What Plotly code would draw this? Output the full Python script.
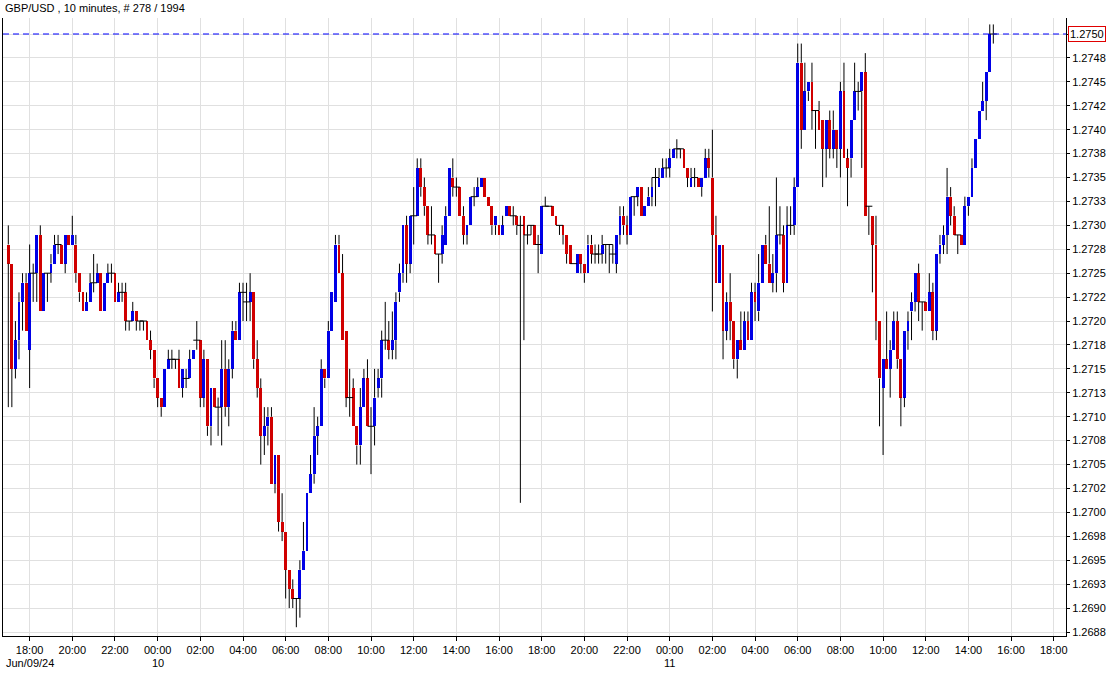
import pandas as pd
import plotly.graph_objects as go

# ---- data (GBP/USD 10-minute candles) ----
opens = [1.2728,1.2726,1.2715,1.2718,1.2722,1.2724,1.2717,1.2725,1.2725,1.2729,
1.2721,1.2725,1.2725,1.2726,1.2728,1.2728,1.2726,1.2729,1.2728,1.2728,
1.2725,1.2723,1.2721,1.2722,1.2724,1.2724,1.2725,1.2721,1.2724,1.2725,
1.2725,1.2722,1.2723,1.2723,1.2720,1.2720,1.2721,1.2720,1.2720,1.2720,
1.2718,1.2717,1.2714,1.2712,1.2711,1.2715,1.2716,1.2716,1.2716,1.2713,
1.2714,1.2714,1.2716,1.2718,1.2718,1.2712,1.2716,1.2709,1.2713,1.2711,
1.2711,1.2715,1.2711,1.2715,1.2719,1.2718,1.2723,1.2722,1.2722,1.2723,
1.2716,1.2713,1.2708,1.2709,1.2710,1.2703,1.2706,1.2699,1.2698,1.2694,
1.2692,1.2691,1.2691,1.2694,1.2696,1.2702,1.2704,1.2708,1.2709,1.2715,
1.2714,1.2719,1.2722,1.2728,1.2725,1.2719,1.2712,1.2713,1.2709,1.2707,
1.2711,1.2714,1.2709,1.2709,1.2713,1.2714,1.2718,1.2718,1.2717,1.2718,
1.2723,1.2725,1.2730,1.2726,1.2731,1.2731,1.2736,1.2734,1.2732,1.2729,
1.2729,1.2727,1.2727,1.2728,1.2731,1.2735,1.2734,1.2734,1.2731,1.2729,
1.2730,1.2733,1.2733,1.2734,1.2735,1.2733,1.2732,1.2730,1.2730,1.2729,
1.2731,1.2732,1.2731,1.2731,1.2730,1.2731,1.2729,1.2730,1.2730,1.2728,
1.2727,1.2732,1.2732,1.2732,1.2731,1.2730,1.2730,1.2729,1.2728,1.2726,
1.2725,1.2727,1.2726,1.2725,1.2728,1.2727,1.2727,1.2727,1.2728,1.2728,
1.2727,1.2726,1.2729,1.2731,1.2730,1.2729,1.2733,1.2733,1.2734,1.2731,
1.2732,1.2733,1.2735,1.2734,1.2735,1.2736,1.2736,1.2737,1.2738,1.2738,
1.2738,1.2736,1.2734,1.2735,1.2735,1.2734,1.2735,1.2737,1.2735,1.2729,
1.2724,1.2728,1.2719,1.2722,1.2720,1.2716,1.2718,1.2717,1.2720,1.2718,
1.2723,1.2721,1.2724,1.2728,1.2726,1.2724,1.2725,1.2729,1.2729,1.2724,
1.2730,1.2730,1.2734,1.2747,1.2740,1.2744,1.2745,1.2742,1.2742,1.2741,
1.2738,1.2741,1.2738,1.2740,1.2738,1.2744,1.2737,1.2737,1.2741,1.2744,
1.2744,1.2746,1.2732,1.2731,1.2728,1.2720,1.2713,1.2716,1.2715,1.2717,
1.2720,1.2716,1.2712,1.2719,1.2721,1.2722,1.2725,1.2722,1.2722,1.2721,
1.2723,1.2719,1.2727,1.2728,1.2729,1.2733,1.2731,1.2729,1.2729,1.2728,
1.2732,1.2733,1.2736,1.2739,1.2742,1.2743,1.2746,1.2750]
highs = [1.2730,1.2726,1.2720,1.2723,1.2725,1.2725,1.2728,1.2726,1.2729,1.2730,
1.2725,1.2725,1.2727,1.2729,1.2729,1.2728,1.2729,1.2729,1.2731,1.2729,
1.2725,1.2723,1.2723,1.2725,1.2727,1.2726,1.2725,1.2724,1.2726,1.2726,
1.2725,1.2724,1.2724,1.2724,1.2720,1.2722,1.2721,1.2720,1.2720,1.2720,
1.2719,1.2717,1.2714,1.2712,1.2715,1.2717,1.2717,1.2716,1.2717,1.2715,
1.2715,1.2717,1.2717,1.2720,1.2718,1.2717,1.2716,1.2713,1.2713,1.2712,
1.2718,1.2718,1.2716,1.2720,1.2720,1.2724,1.2724,1.2724,1.2725,1.2723,
1.2718,1.2714,1.2711,1.2711,1.2711,1.2706,1.2706,1.2702,1.2698,1.2694,
1.2693,1.2691,1.2695,1.2699,1.2702,1.2706,1.2711,1.2710,1.2716,1.2715,
1.2720,1.2723,1.2729,1.2729,1.2727,1.2719,1.2715,1.2714,1.2709,1.2713,
1.2715,1.2716,1.2711,1.2715,1.2715,1.2719,1.2722,1.2720,1.2721,1.2723,
1.2726,1.2730,1.2731,1.2731,1.2734,1.2737,1.2737,1.2735,1.2732,1.2732,
1.2729,1.2727,1.2730,1.2732,1.2736,1.2737,1.2735,1.2734,1.2732,1.2730,
1.2733,1.2734,1.2735,1.2735,1.2735,1.2733,1.2732,1.2731,1.2730,1.2731,
1.2732,1.2732,1.2732,1.2731,1.2731,1.2731,1.2730,1.2730,1.2730,1.2729,
1.2732,1.2733,1.2732,1.2732,1.2731,1.2730,1.2730,1.2729,1.2728,1.2726,
1.2727,1.2727,1.2726,1.2729,1.2729,1.2728,1.2728,1.2729,1.2728,1.2728,
1.2728,1.2729,1.2732,1.2732,1.2731,1.2733,1.2733,1.2734,1.2734,1.2732,
1.2734,1.2735,1.2736,1.2736,1.2737,1.2737,1.2738,1.2738,1.2739,1.2738,
1.2738,1.2736,1.2736,1.2736,1.2735,1.2735,1.2738,1.2738,1.2740,1.2731,
1.2728,1.2728,1.2723,1.2725,1.2720,1.2718,1.2721,1.2721,1.2721,1.2724,
1.2724,1.2727,1.2728,1.2729,1.2732,1.2727,1.2735,1.2732,1.2730,1.2732,
1.2732,1.2735,1.2749,1.2749,1.2747,1.2745,1.2747,1.2742,1.2743,1.2741,
1.2741,1.2742,1.2742,1.2740,1.2745,1.2747,1.2738,1.2741,1.2747,1.2745,
1.2746,1.2748,1.2732,1.2731,1.2731,1.2720,1.2716,1.2721,1.2718,1.2721,
1.2721,1.2716,1.2719,1.2721,1.2723,1.2725,1.2726,1.2722,1.2722,1.2725,
1.2724,1.2727,1.2729,1.2730,1.2736,1.2734,1.2732,1.2729,1.2729,1.2733,
1.2733,1.2737,1.2739,1.2742,1.2745,1.2746,1.2751,1.2751]
lows = [1.2711,1.2711,1.2714,1.2716,1.2719,1.2719,1.2713,1.2722,1.2722,1.2721,
1.2721,1.2722,1.2724,1.2726,1.2727,1.2726,1.2725,1.2728,1.2728,1.2724,
1.2722,1.2721,1.2721,1.2722,1.2723,1.2724,1.2721,1.2721,1.2724,1.2724,
1.2722,1.2722,1.2722,1.2719,1.2719,1.2720,1.2719,1.2719,1.2719,1.2718,
1.2716,1.2713,1.2711,1.2710,1.2711,1.2715,1.2715,1.2715,1.2713,1.2712,
1.2713,1.2714,1.2716,1.2717,1.2711,1.2711,1.2708,1.2707,1.2711,1.2708,
1.2707,1.2710,1.2709,1.2714,1.2718,1.2718,1.2720,1.2720,1.2720,1.2715,
1.2712,1.2705,1.2706,1.2707,1.2703,1.2702,1.2698,1.2697,1.2691,1.2690,
1.2690,1.2688,1.2689,1.2694,1.2696,1.2702,1.2703,1.2706,1.2709,1.2713,
1.2714,1.2719,1.2722,1.2725,1.2718,1.2711,1.2710,1.2709,1.2705,1.2705,
1.2711,1.2709,1.2704,1.2707,1.2712,1.2712,1.2717,1.2716,1.2716,1.2716,
1.2722,1.2724,1.2724,1.2725,1.2728,1.2731,1.2733,1.2731,1.2728,1.2728,
1.2727,1.2724,1.2726,1.2728,1.2731,1.2733,1.2733,1.2731,1.2728,1.2728,
1.2730,1.2732,1.2733,1.2734,1.2733,1.2732,1.2729,1.2729,1.2729,1.2729,
1.2731,1.2731,1.2730,1.2729,1.2701,1.2718,1.2728,1.2729,1.2728,1.2725,
1.2727,1.2732,1.2732,1.2731,1.2730,1.2729,1.2728,1.2726,1.2726,1.2726,
1.2725,1.2725,1.2724,1.2725,1.2726,1.2726,1.2726,1.2726,1.2726,1.2725,
1.2726,1.2725,1.2728,1.2729,1.2728,1.2729,1.2731,1.2732,1.2731,1.2731,
1.2732,1.2732,1.2732,1.2734,1.2735,1.2735,1.2735,1.2737,1.2737,1.2737,
1.2736,1.2734,1.2734,1.2734,1.2734,1.2733,1.2735,1.2735,1.2721,1.2724,
1.2724,1.2716,1.2718,1.2718,1.2715,1.2714,1.2717,1.2717,1.2718,1.2718,
1.2720,1.2720,1.2724,1.2726,1.2724,1.2723,1.2723,1.2728,1.2723,1.2724,
1.2729,1.2729,1.2734,1.2738,1.2740,1.2743,1.2740,1.2738,1.2740,1.2734,
1.2735,1.2737,1.2737,1.2736,1.2735,1.2737,1.2732,1.2735,1.2741,1.2742,
1.2736,1.2731,1.2729,1.2723,1.2718,1.2709,1.2706,1.2715,1.2712,1.2717,
1.2715,1.2709,1.2711,1.2717,1.2718,1.2721,1.2720,1.2719,1.2721,1.2721,
1.2718,1.2718,1.2726,1.2727,1.2727,1.2730,1.2729,1.2727,1.2728,1.2728,
1.2731,1.2733,1.2736,1.2739,1.2742,1.2741,1.2746,1.2749]
closes = [1.2726,1.2715,1.2718,1.2722,1.2724,1.2719,1.2725,1.2725,1.2729,1.2721,
1.2725,1.2725,1.2726,1.2728,1.2728,1.2726,1.2729,1.2728,1.2729,1.2725,
1.2723,1.2721,1.2722,1.2724,1.2724,1.2725,1.2721,1.2724,1.2725,1.2725,
1.2722,1.2723,1.2723,1.2720,1.2720,1.2721,1.2720,1.2720,1.2720,1.2718,
1.2717,1.2714,1.2712,1.2711,1.2715,1.2716,1.2716,1.2716,1.2713,1.2715,
1.2714,1.2716,1.2717,1.2718,1.2712,1.2716,1.2709,1.2713,1.2711,1.2711,
1.2715,1.2711,1.2715,1.2719,1.2718,1.2723,1.2723,1.2722,1.2723,1.2716,
1.2713,1.2708,1.2709,1.2710,1.2703,1.2706,1.2699,1.2698,1.2694,1.2692,
1.2691,1.2691,1.2694,1.2696,1.2702,1.2704,1.2708,1.2709,1.2715,1.2714,
1.2719,1.2723,1.2728,1.2725,1.2718,1.2712,1.2712,1.2709,1.2707,1.2711,
1.2714,1.2709,1.2709,1.2712,1.2714,1.2718,1.2718,1.2717,1.2718,1.2722,
1.2725,1.2730,1.2726,1.2731,1.2731,1.2736,1.2734,1.2732,1.2729,1.2729,
1.2727,1.2727,1.2729,1.2731,1.2736,1.2734,1.2734,1.2731,1.2729,1.2730,
1.2733,1.2733,1.2734,1.2735,1.2733,1.2732,1.2730,1.2731,1.2729,1.2730,
1.2732,1.2731,1.2731,1.2730,1.2730,1.2729,1.2729,1.2730,1.2728,1.2728,
1.2732,1.2732,1.2732,1.2731,1.2730,1.2730,1.2729,1.2727,1.2726,1.2726,
1.2727,1.2726,1.2725,1.2728,1.2727,1.2727,1.2727,1.2728,1.2728,1.2728,
1.2727,1.2729,1.2731,1.2730,1.2729,1.2733,1.2733,1.2734,1.2731,1.2732,
1.2733,1.2734,1.2735,1.2735,1.2736,1.2736,1.2737,1.2738,1.2738,1.2738,
1.2736,1.2735,1.2735,1.2735,1.2734,1.2735,1.2737,1.2736,1.2729,1.2724,
1.2728,1.2719,1.2722,1.2720,1.2716,1.2718,1.2717,1.2720,1.2718,1.2723,
1.2722,1.2724,1.2728,1.2726,1.2724,1.2725,1.2729,1.2729,1.2724,1.2730,
1.2730,1.2734,1.2747,1.2740,1.2744,1.2745,1.2742,1.2742,1.2740,1.2738,
1.2741,1.2738,1.2740,1.2738,1.2744,1.2737,1.2736,1.2741,1.2744,1.2744,
1.2746,1.2731,1.2732,1.2728,1.2720,1.2714,1.2716,1.2715,1.2717,1.2720,
1.2716,1.2712,1.2719,1.2720,1.2722,1.2725,1.2722,1.2722,1.2721,1.2723,
1.2719,1.2727,1.2728,1.2729,1.2733,1.2731,1.2729,1.2729,1.2728,1.2732,
1.2733,1.2736,1.2739,1.2742,1.2743,1.2746,1.2750,1.2750]

y_tick_values = [1.26875 + 0.00025 * k for k in range(26)]
# the top level (1.2750) is shown by the boxed current-price label instead
y_tick_labels = ["1.2688","1.2690","1.2693","1.2695","1.2698","1.2700","1.2702","1.2705",
                 "1.2708","1.2710","1.2713","1.2715","1.2718","1.2720","1.2722","1.2725",
                 "1.2728","1.2730","1.2733","1.2735","1.2738","1.2740","1.2742","1.2745",
                 "1.2748",""]
last_price = 1.2750
title_text = "GBP/USD , 10 minutes, # 278 / 1994"
date_labels = [("2024-06-09 16:47", "Jun/09/24"), ("2024-06-10 00:00", "10"), ("2024-06-11 00:00", "11")]

times = pd.date_range("2024-06-09 17:00", periods=len(opens), freq="10min")

UP = "#0000e6"
DOWN = "#d00000"

fig = go.Figure()

# bodies
base = [min(o, c) for o, c in zip(opens, closes)]
height = [abs(c - o) for o, c in zip(opens, closes)]
colors = [UP if c > o else DOWN for o, c in zip(opens, closes)]
fig.add_trace(go.Bar(x=times, y=height, base=base, width=8 * 60 * 1000,
                     marker=dict(color=colors, line=dict(width=0)),
                     hoverinfo="skip", showlegend=False))

# wicks: upper part (high -> body top) and lower part (body bottom -> low)
wx, wy = [], []
for t, o, h, l, c in zip(times, opens, highs, lows, closes):
    top = max(o, c)
    bot = min(o, c)
    if h > top:
        wx += [t, t, None]
        wy += [top, h, None]
    if l < bot:
        wx += [t, t, None]
        wy += [l, bot, None]
fig.add_trace(go.Scatter(x=wx, y=wy, mode="lines", line=dict(color="#000000", width=1),
                         hoverinfo="skip", showlegend=False))

# doji marks
dx = [t for t, o, c in zip(times, opens, closes) if abs(c - o) < 1e-9]
dy = [o for o, c in zip(opens, closes) if abs(c - o) < 1e-9]
fig.add_trace(go.Scatter(x=dx, y=dy, mode="markers",
                         marker=dict(symbol="line-ew", size=5, line=dict(color="#000000", width=1)),
                         hoverinfo="skip", showlegend=False))

y_top = 1.2750 + 16 / 9.568 * 0.0001
y_bot = 1.26875 - 4 / 9.568 * 0.0001

fig.update_layout(
    width=1112, height=673,
    margin=dict(l=3, r=46, t=18, b=37, autoexpand=False),
    paper_bgcolor="white", plot_bgcolor="white",
    font=dict(family="Liberation Sans, Arial, sans-serif", size=11, color="#000000"),
    bargap=0,
    xaxis=dict(
        type="date", automargin=False,
        range=["2024-06-09 16:45:06", "2024-06-11 18:34:24"],
        tickformat="%H:%M", dtick=7200000, tick0="2024-06-09 18:00",
        showgrid=True, gridcolor="#e0e0e0", gridwidth=1,
        ticks="outside", ticklen=4, tickcolor="#000000",
        showline=True, linecolor="#000000", linewidth=1, mirror=False,
        zeroline=False, fixedrange=True,
    ),
    yaxis=dict(
        side="right", automargin=False, range=[y_bot, y_top],
        tickvals=y_tick_values, ticktext=y_tick_labels,
        showgrid=True, gridcolor="#e0e0e0", gridwidth=1,
        ticks="outside", ticklen=3, tickcolor="#000000",
        ticklabelstandoff=0,
        showline=True, linecolor="#000000", linewidth=1, mirror=True,
        zeroline=False, fixedrange=True,
    ),
)

# current price dashed line
fig.add_shape(type="line", xref="paper", x0=0, x1=1, yref="y", y0=last_price, y1=last_price,
              line=dict(color="#0000ff", width=1.2, dash="6px,4px"))

# current price label
fig.add_annotation(xref="paper", x=1, xanchor="left", xshift=2, yref="y", y=last_price,
                   text=f"{last_price:.4f}", showarrow=False,
                   bgcolor="white", bordercolor="#e00000", borderwidth=1, borderpad=1,
                   font=dict(size=11, color="#000000"))

# title
fig.add_annotation(xref="paper", x=0, xanchor="left", xshift=0, yref="paper", y=1, yanchor="bottom",
                   yshift=2, text=title_text, showarrow=False, font=dict(size=11, color="#000000"))

# date labels
for t, txt in date_labels:
    fig.add_annotation(xref="x", x=t, xanchor="left" if txt.startswith("Jun") else "center",
                       yref="paper", y=0, yanchor="top", yshift=-19,
                       text=txt, showarrow=False, font=dict(size=11, color="#000000"))

fig.write_html("out.html", config={"displayModeBar": False},
               post_script="document.body.style.margin='0';document.body.style.overflow='hidden';")
